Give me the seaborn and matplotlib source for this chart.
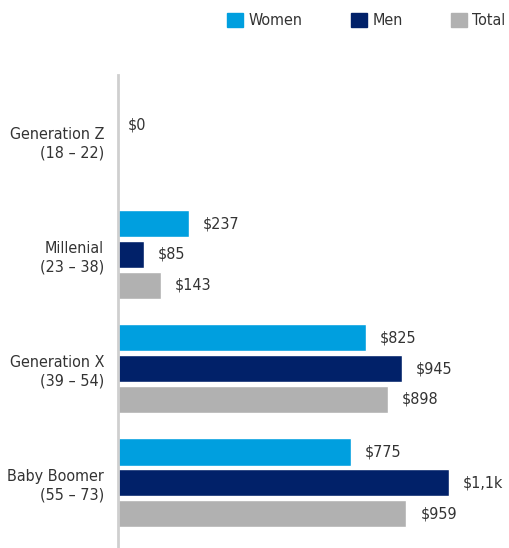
import pandas as pd
import matplotlib
matplotlib.use("Agg")
import matplotlib.pyplot as plt
import seaborn as sns

generations = ["Generation Z\n(18 – 22)", "Millenial\n(23 – 38)",
               "Generation X\n(39 – 54)", "Baby Boomer\n(55 – 73)"]
women = [0, 237, 825, 775]
men = [0, 85, 945, 1100]
total = [0, 143, 898, 959]
series_names = ["Women", "Men", "Total"]
colors = ["#009FDF", "#012169", "#B1B1B1"]


def money(v):
    if v >= 1000:
        return "$" + f"{v / 1000:.1f}".replace(".", ",") + "k"
    return f"${v:.0f}"


def build_frame():
    """Long form table for seaborn."""
    rows = []
    for name, vals in zip(series_names, [women, men, total]):
        for gen, v in zip(generations, vals):
            rows.append({"generation": gen, "series": name, "value": v})
    return pd.DataFrame(rows)


df = build_frame()

sns.set_theme(style="white")
plt.rcParams["font.family"] = ["DejaVu Sans"]
plt.rcParams["font.stretch"] = "condensed"
plt.rcParams["text.color"] = "#333333"
fs = 11.5

fig = plt.figure(figsize=(5.09, 5.48), dpi=100)
ax = fig.add_axes([118 / 509, 0.0, 1 - 118 / 509, 473 / 548])

sns.barplot(data=df, y="generation", x="value", hue="series", orient="h",
            palette=colors, hue_order=series_names, order=generations,
            width=0.81, gap=0.12, legend=False, ax=ax, saturation=1)

ax.set_xlim(0, 1300)
ax.set_ylim(3.57, -0.57)
ax.set_xlabel("")
ax.set_ylabel("")
ax.set_xticks([])
ax.tick_params(axis="y", length=0, pad=10, labelsize=fs, labelcolor="#333333")
for lab in ax.get_yticklabels():
    lab.set_linespacing(1.3)

for s in ["top", "right", "bottom"]:
    ax.spines[s].set_visible(False)
ax.spines["left"].set_color("#CFCFCF")
ax.spines["left"].set_linewidth(2)

# value labels, skip empty bars
for cont, vals in zip(ax.containers, [women, men, total]):
    labels = [money(v) if v > 0 else "" for v in vals]
    ax.bar_label(cont, labels=labels, padding=10, fontsize=fs, color="#333333")

ax.annotate("$0", xy=(0, 0), xytext=(7, 11), textcoords="offset points",
            va="center", ha="left", fontsize=fs, color="#333333")

handles = [plt.Rectangle((0, 0), 1, 1, color=c) for c in colors]
fig.legend(handles, series_names, loc="upper right", bbox_to_anchor=(1.018, 1.0),
           ncol=3, frameon=False, fontsize=fs, handlelength=1.0,
           handleheight=1.0, handletextpad=0.35, columnspacing=3.0,
           borderaxespad=0.6, borderpad=0.2)

fig.savefig("out.png", dpi=100)
